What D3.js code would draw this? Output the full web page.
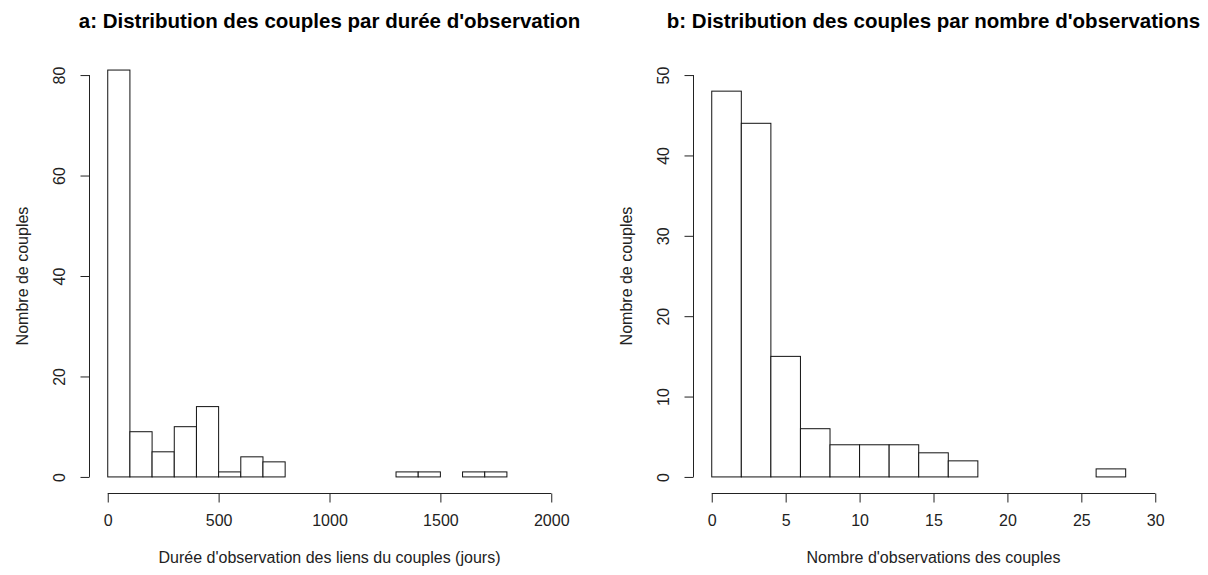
<!DOCTYPE html>
<html>
<head>
<meta charset="utf-8">
<script src="https://cdn.jsdelivr.net/npm/d3@7"></script>
<style>
  html, body { margin: 0; padding: 0; background: #fff; }
  svg { display: block; font-family: "Liberation Sans", Arial, Helvetica, sans-serif; }
</style>
</head>
<body>
<svg id="chart" width="1208" height="575"></svg>
<script>
// Panel a: couples by observation duration (days), bins of 100
const dureeBreaks = [0, 100, 200, 300, 400, 500, 600, 700, 800, 900, 1000,
                     1100, 1200, 1300, 1400, 1500, 1600, 1700, 1800];
const dureeCounts = [81, 9, 5, 10, 14, 1, 4, 3, 0, 0, 0, 0, 0, 1, 1, 0, 1, 1];
const dureeXTicks = [0, 500, 1000, 1500, 2000];
const dureeYTicks = [0, 20, 40, 60, 80];

// Panel b: couples by number of observations, bins of 2
const nombreBreaks = [0, 2, 4, 6, 8, 10, 12, 14, 16, 18, 20, 22, 24, 26, 28];
const nombreCounts = [48, 44, 15, 6, 4, 4, 4, 3, 2, 0, 0, 0, 0, 1];
const nombreXTicks = [0, 5, 10, 15, 20, 25, 30];
const nombreYTicks = [0, 10, 20, 30, 40, 50];

const panels = [
  {
    title: "a: Distribution des couples par durée d'observation",
    xlab: "Durée d'observation des liens du couples (jours)",
    ylab: "Nombre de couples",
    breaks: dureeBreaks, counts: dureeCounts,
    xlim: [0, 2000], ylim: [0, 80],
    xTicks: dureeXTicks, yTicks: dureeYTicks,
    left: 0
  },
  {
    title: "b: Distribution des couples par nombre d'observations",
    xlab: "Nombre d'observations des couples",
    ylab: "Nombre de couples",
    breaks: nombreBreaks, counts: nombreCounts,
    xlim: [0, 30], ylim: [0, 50],
    xTicks: nombreXTicks, yTicks: nombreYTicks,
    left: 604
  }
];

const svg = d3.select("#chart");
const figW = 604;
const mar = { top: 59, right: 35, bottom: 82, left: 90 };
const plotTop = mar.top, plotBottom = 575 - mar.bottom;

// extend a range by 4% on each side, as base graphics do
function expand(lim) {
  const d = (lim[1] - lim[0]) * 0.04;
  return [lim[0] - d, lim[1] + d];
}

panels.forEach(p => {
  const x0 = p.left + mar.left, x1 = p.left + figW - mar.right;
  const x = d3.scaleLinear().domain(expand(p.xlim)).range([x0, x1]);
  const y = d3.scaleLinear().domain(expand(p.ylim)).range([plotBottom, plotTop]);

  const g = svg.append("g");

  // title
  g.append("text")
    .attr("x", (x0 + x1) / 2)
    .attr("y", 27.5)
    .attr("text-anchor", "middle")
    .attr("font-size", "20.5px")
    .attr("font-weight", "bold")
    .attr("fill", "#000")
    .text(p.title);

  // histogram bars
  const bins = p.counts.map((c, i) => ({ x0: p.breaks[i], x1: p.breaks[i + 1], n: c }))
    .filter(b => b.n > 0);
  g.append("g").selectAll("rect")
    .data(bins)
    .join("rect")
    .attr("x", d => x(d.x0))
    .attr("y", d => y(d.n))
    .attr("width", d => x(d.x1) - x(d.x0))
    .attr("height", d => y(0) - y(d.n))
    .attr("fill", "#fff")
    .attr("stroke", "#111")
    .attr("stroke-width", 1);

  // bottom axis: line spans first to last tick only
  const xAxis = g.append("g")
    .attr("transform", `translate(0,${plotBottom + 0.5})`)
    .call(d3.axisBottom(x).tickValues(p.xTicks).tickSize(9).tickSizeOuter(0).tickPadding(12)
      .tickFormat(d3.format("d")));
  xAxis.select(".domain")
    .attr("d", `M${x(p.xTicks[0])},0H${x(p.xTicks[p.xTicks.length - 1])}`);
  xAxis.selectAll("line, .domain").attr("stroke", "#222");
  xAxis.selectAll("text")
    .attr("font-size", "16px")
    .attr("fill", "#222")
    .attr("font-family", "Liberation Sans, Arial, sans-serif");

  // left axis with labels rotated parallel to the axis
  const yAxis = g.append("g")
    .attr("transform", `translate(${x0 - 0.5},0)`)
    .call(d3.axisLeft(y).tickValues(p.yTicks).tickSize(9).tickSizeOuter(0)
      .tickFormat(d3.format("d")));
  yAxis.select(".domain")
    .attr("d", `M0,${y(p.yTicks[0])}V${y(p.yTicks[p.yTicks.length - 1])}`);
  yAxis.selectAll("line, .domain").attr("stroke", "#222");
  yAxis.selectAll("text")
    .attr("transform", "rotate(-90)")
    .attr("x", 0)
    .attr("y", -25)
    .attr("dy", null)
    .attr("text-anchor", "middle")
    .attr("font-size", "16px")
    .attr("fill", "#222")
    .attr("font-family", "Liberation Sans, Arial, sans-serif");

  // axis titles
  g.append("text")
    .attr("x", (x0 + x1) / 2)
    .attr("y", 563)
    .attr("text-anchor", "middle")
    .attr("font-size", "16px")
    .attr("fill", "#222")
    .text(p.xlab);

  g.append("text")
    .attr("transform", `translate(${x0 - 62},${(plotTop + plotBottom) / 2}) rotate(-90)`)
    .attr("text-anchor", "middle")
    .attr("font-size", "16px")
    .attr("fill", "#222")
    .text(p.ylab);
});
</script>
</body>
</html>
